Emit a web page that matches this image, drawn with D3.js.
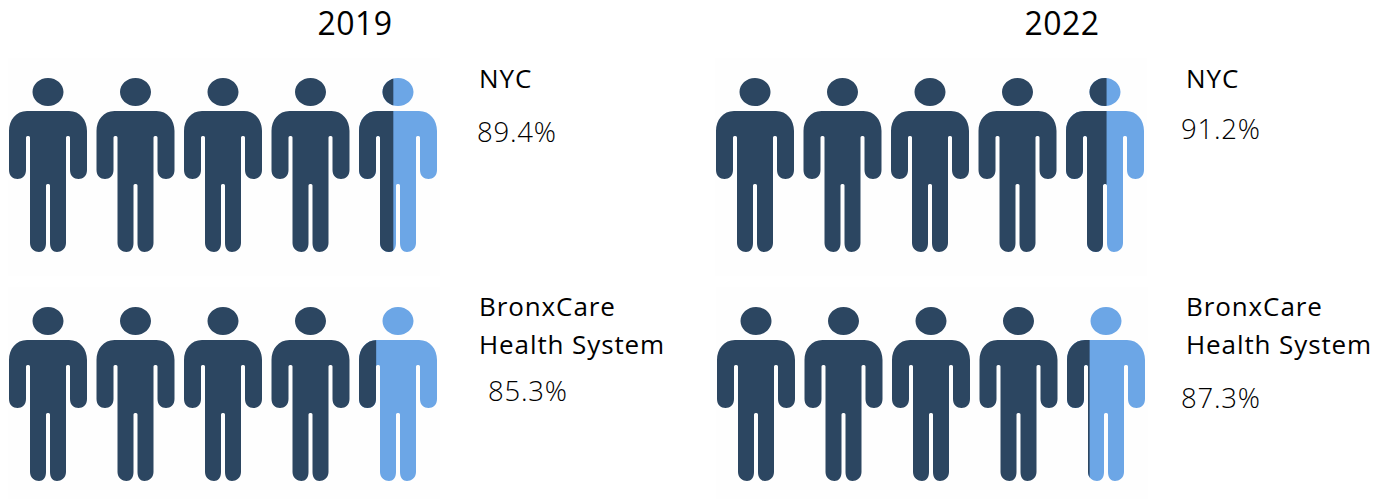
<!DOCTYPE html>
<html>
<head>
<meta charset="utf-8">
<script src="https://cdn.jsdelivr.net/npm/d3@7"></script>
<style>
  html, body { margin: 0; padding: 0; background: #fff; }
  .title { font: 400 32px "Open Sans", sans-serif; fill: #000; letter-spacing: 0.5px; }
  .name { font: 400 26px "Open Sans", sans-serif; fill: #000; letter-spacing: 0.9px; }
  .pct { font: 300 27.5px "Open Sans", sans-serif; fill: #000; letter-spacing: 0.8px; }
</style>
</head>
<body>
<svg id="chart" width="1385" height="499"></svg>
<script>
// values
const years = ["2019", "2022"];
const systems = [["NYC"], ["BronxCare", "Health System"]];
const pctLabels = [["89.4%", "91.2%"], ["85.3%", "87.3%"]];
// share of the fifth figure, left to right, that is dark
const lastFigureDark = [[0.44, 0.52], [0.22, 0.29]];
const figures = [0, 1, 2, 3, 4];

const dark = "#2c4661";
const light = "#6ca6e6";

const svg = d3.select("#chart");

// where each panel sits (the pasted pictures are not quite aligned)
const panelX = [[0, 707], [0, 708]];
const rowY = [0, 229];
const pctPos = [[[477, 142], [1181 - 707, 139]], [[488, 401 - 229], [1181 - 708, 408 - 229]]];
const nameY = [88, 87];
const figX = d3.scaleBand().domain(figures).range([9, 446.5]);

// person glyph drawn in a 78 x 174 box
function person(p) {
  // head, slightly wider than tall
  const rx = 15.5, ry = 14, k = 0.5523;
  p.moveTo(39 + rx, ry);
  p.bezierCurveTo(39 + rx, ry + k * ry, 39 + k * rx, 2 * ry, 39, 2 * ry);
  p.bezierCurveTo(39 - k * rx, 2 * ry, 39 - rx, ry + k * ry, 39 - rx, ry);
  p.bezierCurveTo(39 - rx, ry - k * ry, 39 - k * rx, 0, 39, 0);
  p.bezierCurveTo(39 + k * rx, 0, 39 + rx, ry - k * ry, 39 + rx, ry);
  p.closePath();
  // body, clockwise from the left shoulder
  p.moveTo(18, 33);
  p.lineTo(60, 33);
  p.bezierCurveTo(71, 33, 78, 42, 78, 53);
  p.lineTo(78, 92);
  p.bezierCurveTo(78, 98, 74, 101, 69.5, 101);
  p.bezierCurveTo(65, 101, 61, 98, 61, 92);
  p.lineTo(61, 59.5);
  p.quadraticCurveTo(61, 58, 59.5, 58);
  p.lineTo(58.5, 58);
  p.quadraticCurveTo(57, 58, 57, 59.5);
  p.lineTo(57, 165);
  p.bezierCurveTo(57, 171, 52, 174, 48, 174);
  p.bezierCurveTo(44, 174, 41, 171, 41, 165);
  p.lineTo(41, 107.5);
  p.quadraticCurveTo(41, 106, 39.5, 106);
  p.lineTo(38.5, 106);
  p.quadraticCurveTo(37, 106, 37, 107.5);
  p.lineTo(37, 165);
  p.bezierCurveTo(37, 171, 34, 174, 30, 174);
  p.bezierCurveTo(26, 174, 21, 171, 21, 165);
  p.lineTo(21, 59.5);
  p.quadraticCurveTo(21, 58, 19.5, 58);
  p.lineTo(18.5, 58);
  p.quadraticCurveTo(17, 58, 17, 59.5);
  p.lineTo(17, 92);
  p.bezierCurveTo(17, 98, 13, 101, 8.5, 101);
  p.bezierCurveTo(4, 101, 0, 98, 0, 92);
  p.lineTo(0, 53);
  p.bezierCurveTo(0, 42, 7, 33, 18, 33);
  p.closePath();
  return p;
}
const personPath = person(d3.path()).toString();

svg.append("defs").append("clipPath").attr("id", "personClip")
  .append("path").attr("d", personPath);

const share = d3.scaleLinear().domain([0, 1]).range([0, 78]);

years.forEach((year, c) => {
  svg.append("text").attr("class", "title")
    .attr("x", 355 + panelX[0][c]).attr("y", 35).attr("text-anchor", "middle")
    .text(year);

  systems.forEach((lines, r) => {
    const row = svg.append("g")
      .attr("transform", `translate(${panelX[r][c]},${rowY[r]})`);

    // faint edge left over from the pasted picture
    row.append("rect").attr("x", 8).attr("y", 58)
      .attr("width", 432).attr("height", 218).attr("fill", "#fefefe");

    const fig = row.selectAll("g.fig").data(figures).enter().append("g")
      .attr("class", "fig")
      .attr("transform", (d) => `translate(${figX(d)},78)`);

    fig.append("path").attr("d", personPath)
      .attr("fill", (d) => d === 4 ? light : dark);

    // dark part of the last figure
    fig.filter((d) => d === 4).append("rect")
      .attr("clip-path", "url(#personClip)")
      .attr("x", 0).attr("y", 0)
      .attr("width", share(lastFigureDark[r][c]))
      .attr("height", 174)
      .attr("fill", dark);

    lines.forEach((t, i) => {
      row.append("text").attr("class", "name")
        .attr("x", r === 1 && c === 1 ? 478 : 479).attr("y", nameY[r] + i * 38).text(t);
    });

    row.append("text").attr("class", "pct")
      .attr("x", pctPos[r][c][0]).attr("y", pctPos[r][c][1])
      .text(pctLabels[r][c]);
  });
});
</script>
</body>
</html>
